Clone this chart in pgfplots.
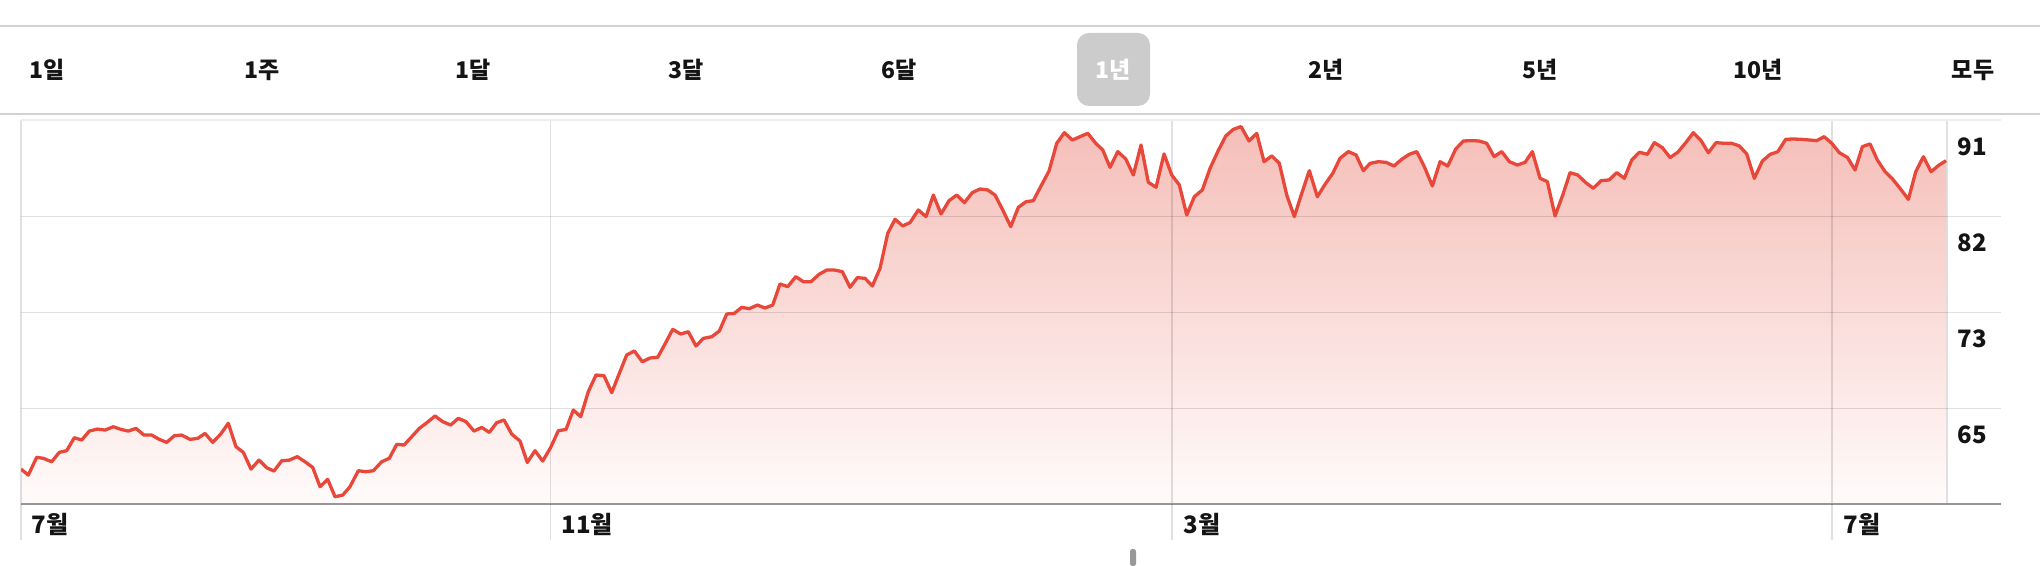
\documentclass[border=0pt]{standalone}
\usepackage{fontspec}
\setmainfont{Noto Sans CJK KR}
\usepackage{pgfplots}
\pgfplotsset{compat=1.18}
\usepackage{pgfplotstable}

\definecolor{lred}{RGB}{232,72,58}
\definecolor{ftop}{RGB}{245,190,184}
\definecolor{fbot}{RGB}{255,251,251}
\definecolor{sepc}{RGB}{210,210,210}
\definecolor{bandc}{RGB}{238,238,238}
\definecolor{axc}{RGB}{150,150,150}
\definecolor{boxc}{RGB}{204,204,204}
\definecolor{txt}{RGB}{20,20,20}

\pgfplotstableread{
x y
21.0 59.01
28.3 58.47
36.7 60.07
43.3 59.98
51.7 59.67
59.3 60.52
66.7 60.67
74.3 61.84
81.7 61.63
89.3 62.44
97.3 62.62
105.0 62.53
113.3 62.83
121.0 62.59
128.3 62.44
136.0 62.68
144.0 62.08
151.7 62.08
159.3 61.69
166.7 61.42
174.3 62.02
181.7 62.08
190.0 61.69
197.7 61.78
205.0 62.23
212.7 61.42
220.7 62.17
228.3 63.14
236.0 61.03
243.3 60.52
251.0 59.01
259.0 59.82
266.7 59.13
274.0 58.83
281.7 59.76
289.3 59.82
297.3 60.13
305.0 59.67
312.7 59.16
320.0 57.42
327.7 58.08
335.0 56.51
342.7 56.66
350.0 57.42
358.3 58.86
366.0 58.77
373.3 58.86
381.7 59.67
389.3 59.98
396.7 61.24
404.0 61.18
411.7 61.93
419.3 62.68
427.3 63.23
435.0 63.80
442.7 63.29
450.7 62.99
458.3 63.59
466.0 63.29
474.0 62.44
481.7 62.77
489.3 62.32
496.7 63.20
504.0 63.44
511.7 62.17
520.0 61.54
527.3 59.61
535.0 60.67
542.7 59.73
550.7 60.97
558.3 62.47
566.0 62.59
573.3 64.34
580.7 63.74
588.3 66.00
596.0 67.50
604.0 67.44
611.7 65.91
619.3 67.65
626.7 69.31
634.3 69.67
642.3 68.70
650.0 69.04
657.7 69.10
665.3 70.36
672.7 71.62
680.7 71.20
688.3 71.41
696.0 70.12
703.3 70.81
711.7 70.96
719.3 71.47
726.7 73.01
734.3 73.07
741.7 73.61
749.3 73.49
757.3 73.82
765.0 73.55
772.7 73.82
780.0 75.72
787.7 75.48
795.7 76.38
803.3 75.93
811.0 75.93
819.0 76.59
826.7 76.98
834.3 76.98
842.3 76.83
850.0 75.42
857.3 76.29
865.0 76.23
872.3 75.54
880.0 77.13
887.7 80.29
895.0 81.56
902.7 80.96
910.0 81.26
918.3 82.40
926.0 81.80
933.3 83.75
941.0 82.04
949.0 83.24
956.7 83.75
964.3 83.06
972.3 83.97
980.0 84.30
987.7 84.21
995.0 83.75
1002.7 82.40
1010.7 80.90
1018.3 82.64
1026.0 83.15
1033.3 83.24
1041.0 84.57
1049.0 85.92
1056.7 88.42
1064.3 89.38
1072.3 88.72
1080.0 89.02
1087.7 89.32
1095.7 88.42
1102.7 87.82
1110.0 86.25
1117.7 87.67
1125.7 87.01
1133.3 85.56
1141.0 88.27
1148.3 84.90
1156.0 84.45
1164.0 87.46
1171.7 85.56
1179.3 84.66
1186.7 81.95
1194.3 83.60
1202.3 84.21
1210.0 86.16
1217.7 87.67
1225.7 89.08
1233.3 89.68
1241.0 89.93
1249.0 88.63
1256.7 89.32
1264.0 86.76
1271.7 87.28
1279.3 86.61
1286.7 83.75
1294.3 81.80
1301.7 83.91
1309.3 85.95
1317.3 83.60
1325.0 84.72
1332.7 85.71
1340.0 87.07
1348.3 87.67
1356.0 87.37
1363.3 85.95
1370.0 86.61
1378.3 86.76
1386.0 86.70
1394.0 86.37
1401.7 86.98
1409.3 87.43
1416.7 87.67
1424.3 86.31
1432.3 84.57
1440.0 86.76
1447.7 86.37
1455.7 87.91
1463.3 88.63
1471.0 88.66
1479.0 88.63
1486.7 88.42
1494.0 87.22
1501.7 87.67
1509.3 86.76
1517.3 86.46
1525.0 86.70
1532.3 87.67
1540.0 85.26
1547.3 84.96
1555.0 81.86
1562.7 83.75
1570.0 85.77
1577.7 85.56
1585.7 84.87
1593.3 84.36
1601.0 85.05
1609.0 85.11
1616.7 85.77
1624.3 85.26
1631.7 86.92
1639.3 87.61
1647.3 87.43
1654.3 88.48
1662.3 88.03
1670.0 87.13
1677.7 87.61
1685.7 88.48
1693.3 89.38
1701.0 88.66
1708.3 87.57
1716.0 88.48
1724.0 88.42
1731.7 88.42
1739.3 88.18
1746.7 87.45
1754.3 85.26
1762.3 86.82
1770.0 87.42
1777.7 87.66
1785.7 88.78
1793.3 88.81
1801.0 88.78
1809.0 88.72
1816.7 88.66
1824.0 89.02
1831.7 88.42
1839.3 87.57
1847.3 87.15
1855.0 86.01
1862.3 88.12
1870.0 88.36
1877.3 86.91
1885.0 85.86
1892.7 85.17
1900.0 84.35
1908.3 83.36
1915.7 85.86
1923.3 87.21
1931.0 85.86
1939.0 86.46
1946.0 86.85
}\pricedata

\begin{document}
\begin{tikzpicture}[x=0.5bp,y=0.5bp]
\path (0,0) rectangle (2040,566);

% separators
\draw[sepc, line width=0.75bp] (0,540) -- (2040,540);
\draw[sepc, line width=0.75bp] (0,452) -- (2040,452);

% period tabs
\fill[boxc, rounded corners=6bp] (1077,460) rectangle (1150,533);
\begin{scope}[every node/.style={inner sep=0pt, font=\fontsize{11.5bp}{13bp}\selectfont\bfseries, text=txt}]
\node at (47,496) {1일};
\node at (262,496) {1주};
\node at (473,496) {1달};
\node at (686,496) {3달};
\node at (899,496) {6달};
\node[text=white] at (1113.5,496) {1년};
\node at (1326,496) {2년};
\node at (1540,496) {5년};
\node at (1758,496) {10년};
\node at (1973,496) {모두};
\end{scope}

\begin{axis}[
  at={(10.5bp,30.85bp)}, anchor=south west,
  scale only axis, width=990bp, height=192bp,
  xmin=21, xmax=2001, ymin=55.83, ymax=90.5,
  axis line style={draw=none},
  xtick={21,550.3,1172,1832,1947},
  ytick={64.5,73.17,81.83},
  xticklabels={}, yticklabels={},
  tick label style={opacity=0, inner sep=0pt},
  major tick length=0pt,
  grid=major,
  major grid style={black, opacity=0.12, line width=0.7bp},
  set layers,
]
\addplot[draw=none, on layer=axis background, top color=ftop, bottom color=fbot]
  table[x=x,y=y] {\pricedata} -- (axis cs:1946,55.83) -- (axis cs:21,55.83) -- cycle;
\addplot[lred, line width=1.65bp, line join=round, mark=none] table[x=x,y=y] {\pricedata};
\end{axis}

% top band and bottom axis line
\draw[bandc, line width=1.1bp] (21,445.7) -- (2001,445.7);
\draw[axc, line width=0.9bp] (21,61.7) -- (2001,61.7);
% gridline extensions under the axis
\foreach \gx in {21,550.3,1172,1832} {
  \draw[black, opacity=0.12, line width=0.7bp] (\gx,61.7) -- (\gx,26);
}

% x labels
\begin{scope}[every node/.style={inner sep=0pt, anchor=west, font=\fontsize{12bp}{14bp}\selectfont\bfseries, text=txt}]
\node at (31,42) {7월};
\node at (561,42) {11월};
\node at (1183,42) {3월};
\node at (1843,42) {7월};
% y labels
\node at (1957,419) {91};
\node at (1957,323) {82};
\node at (1957,227) {73};
\node at (1957,131) {65};
\end{scope}

% scroll indicator
\fill[gray!80, rounded corners=1.2bp] (1130,0) rectangle (1136,17);

\pgfresetboundingbox
\path[use as bounding box] (0,0) rectangle (2040,566);
\end{tikzpicture}
\end{document}
